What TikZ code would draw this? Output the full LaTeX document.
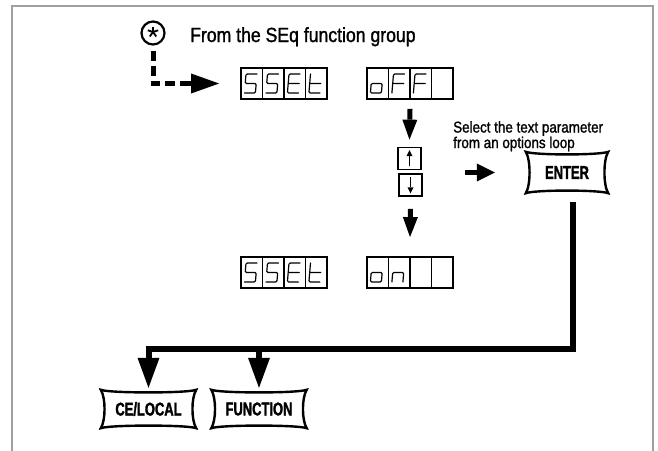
\documentclass[tikz,border=0pt]{standalone}
\usepackage{fontspec}
\setmainfont{Liberation Sans}
\newfontfamily\labelfont{Liberation Sans}[FakeStretch=0.86,FakeBold=1.3]
\newfontfamily\keyfont{Liberation Sans}[FakeStretch=0.70,FakeBold=1.6]
\usetikzlibrary{arrows.meta,calc}
\definecolor{framegray}{RGB}{160,160,160}

\tikzset{
  frameline/.style={draw=framegray, line width=2pt},
  segline/.style={line width=1.2pt, line join=round, line cap=round, rounded corners=1.2pt},
  dispbox/.style={draw, line width=1.8pt, minimum width=86pt, minimum height=31pt, inner sep=0pt},
  divline/.style={line width=1.2pt},
  udbox/.style={draw, line width=1.7pt, minimum width=23pt, minimum height=22pt, inner sep=0pt},
  tinyarrow/.style={line width=1.8pt, -{Triangle[width=6pt,length=6pt,line width=0pt]}},
  keynode/.style={inner sep=0pt, font=\keyfont\bfseries\fontsize{18.5pt}{20pt}\selectfont},
  keyline/.style={line width=2.4pt, line join=miter},
  medarrow/.style={line width=5pt, -{Triangle[width=15pt,length=20pt,line width=0pt]}},
  rarrow/.style={line width=5.5pt, -{Triangle[width=18pt,length=18pt,line width=0pt]}},
  fatarrow/.style={line width=5pt, -{Triangle[width=20pt,length=28pt,line width=0pt]}},
  dashline/.style={line width=5pt, dash pattern=on 10pt off 5pt},
  busline/.style={line width=6pt},
  busarrow/.style={busline, -{Triangle[width=22pt,length=30pt,line width=0pt]}},
}

\newcommand\segcell[3]{%
  \begin{scope}[shift={(#1,#2)}]
    \coordinate (TL) at (5,6);   \coordinate (TR) at (16,6);
    \coordinate (ML) at (4.2,15.5); \coordinate (MR) at (15.2,15.5);
    \coordinate (BL) at (3.4,25); \coordinate (BR) at (14.4,25);
    #3
  \end{scope}}
\newcommand\glS{\draw[segline] (TR)--(TL)--(ML)--(MR)--(BR)--(BL);}
\newcommand\glE{\draw[segline] (TR)--(TL)--(BL)--(BR) (ML)--(MR);}
\newcommand\glt{\draw[segline] (TL)--(BL)--(BR) (ML)--(MR);}
\newcommand\glo{\draw[segline] (ML)--(MR)--(BR)--(BL)--cycle;}
\newcommand\glF{\draw[segline] (TR)--(TL)--(BL) (ML)--(MR);}
\newcommand\gln{\draw[segline] (BL)--(ML)--(MR)--(BR);}

\newcommand\sevdisp[7]{%
  \node[dispbox] (#1) at (#2+43,#3+15.5) {};
  \foreach \k in {1,2,3}{\draw[divline] (#2+\k*21.5,#3) -- (#2+\k*21.5,#3+31);}
  \segcell{#2}{#3}{#4}\segcell{#2+21.5}{#3}{#5}\segcell{#2+43}{#3}{#6}\segcell{#2+64.5}{#3}{#7}}

\newcommand\keycap[1]{%
  \draw[keyline] (#1.north west)
    .. controls ($(#1.north west)+(9pt,-3.5pt)$) and ($(#1.north east)+(-9pt,-3.5pt)$) .. (#1.north east)
    .. controls ($(#1.north east)+(-5pt,-8pt)$) and ($(#1.south east)+(-5pt,8pt)$) .. (#1.south east)
    .. controls ($(#1.south east)+(-9pt,3.5pt)$) and ($(#1.south west)+(9pt,3.5pt)$) .. (#1.south west)
    .. controls ($(#1.south west)+(5pt,8pt)$) and ($(#1.north west)+(5pt,-8pt)$) .. cycle;}

\begin{document}
\begin{tikzpicture}[x=1pt,y=-1pt]
\useasboundingbox (0,0) rectangle (658,450);
\draw[frameline] (12,452) -- (12,6) -- (653,6) -- (653,452);

% start marker and title
\node[circle, draw, line width=2.2pt, minimum size=23pt, inner sep=0pt] (star) at (153,33) {};
\foreach \a in {90,18,162,234,306}{\draw[line width=1.8pt] ([yshift=1pt]star.center) -- ++(\a:5.5pt);}
\node[anchor=base west, inner sep=0pt, font=\labelfont\fontsize{20.5pt}{24pt}\selectfont] (title) at (190,42) {From the SEq function group};

% displays
\sevdisp{d1}{241}{68}{\glS}{\glS}{\glE}{\glt}
\sevdisp{d2}{367}{68}{\glo}{\glF}{\glF}{}
\sevdisp{d3}{241}{257}{\glS}{\glS}{\glE}{\glt}
\sevdisp{d4}{367}{257}{\glo}{\gln}{}{}

% dashed entry
\coordinate (dashend) at (188,83.5);
\draw[dashline] ([yshift=-5pt]star.south) |- (dashend);
\draw[fatarrow] ([xshift=-3pt]dashend) -- ([xshift=-21pt]d1.west);

% up/down keys
\node[udbox] (upbtn) at (409.5,158.5) {};
\node[udbox] (dnbtn) at (410.5,185) {};
\draw[tinyarrow] ([yshift=4pt]upbtn.south) -- ([yshift=-3.5pt]upbtn.north);
\draw[tinyarrow] ([yshift=-4pt]dnbtn.north) -- ([yshift=3.5pt]dnbtn.south);

\draw[medarrow] ([yshift=-9pt]d2.south) -- ([yshift=7pt]upbtn.north);
\draw[medarrow] ([yshift=-12pt]dnbtn.south) -- ([yshift=19pt]d4.north);

\node[anchor=north west, align=left, inner sep=0pt, font=\labelfont\fontsize{15.6pt}{12.3pt}\selectfont] (hint) at (453,121) {Select the text parameter\\from an options loop};

% keys
\node[keynode, minimum width=82pt, minimum height=41pt] (enter) at (567,172.5) {ENTER};
\keycap{enter}
\coordinate (udmid) at (465,172.5);
\draw[rarrow] (udmid) -- ([xshift=-31pt]enter.west);

\node[keynode, minimum width=95pt, minimum height=38pt] (celocal) at (148.5,409) {CE/LOCAL};
\keycap{celocal}
\node[keynode, minimum width=95pt, minimum height=38pt] (function) at (259,409) {FUNCTION};
\keycap{function}

\coordinate (bus) at (0,349);
\draw[busarrow] ([xshift=5.5pt,yshift=-9pt]enter.south) |- (celocal.north |- bus) -- ([yshift=2pt]celocal.north);
\draw[busarrow] (function.north |- bus) -- ([yshift=2pt]function.north);
\end{tikzpicture}
\end{document}
